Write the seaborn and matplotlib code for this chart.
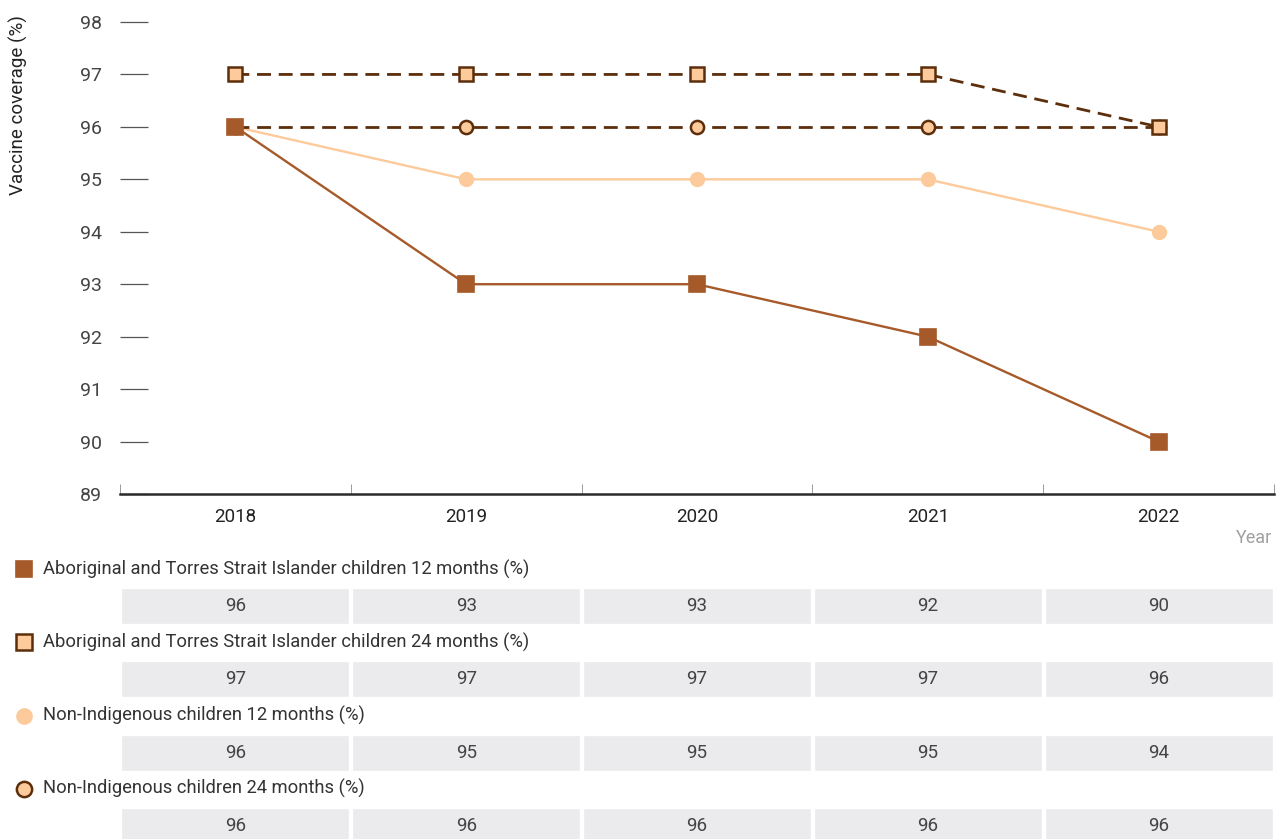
import matplotlib
matplotlib.use("Agg")
import matplotlib.pyplot as plt
import matplotlib.transforms as mtransforms
import numpy as np
import pandas as pd
import seaborn as sns

sns.set_theme(style="white")
plt.rcParams["font.family"] = ["Roboto", "DejaVu Sans"]

# data
years = ["2018", "2019", "2020", "2021", "2022"]
atsi_12 = [96, 93, 93, 92, 90]
atsi_24 = [97, 97, 97, 97, 96]
nonind_12 = [96, 95, 95, 95, 94]
nonind_24 = [96, 96, 96, 96, 96]

series_names = [
    "Aboriginal and Torres Strait Islander children 12 months (%)",
    "Aboriginal and Torres Strait Islander children 24 months (%)",
    "Non-Indigenous children 12 months (%)",
    "Non-Indigenous children 24 months (%)",
]
series_values = [atsi_12, atsi_24, nonind_12, nonind_24]

BROWN = "#a65a29"
PEACH = "#fdca9b"
DARK = "#5c2e0b"
DASH = (0, (5, 2.8))

styles = [
    dict(color=BROWN, marker="s", markerfacecolor=BROWN, markeredgecolor=BROWN,
         markeredgewidth=1.2, markersize=11, linestyle="-", linewidth=1.7, zorder=6),
    dict(color=DARK, marker="s", markerfacecolor=PEACH, markeredgecolor=DARK,
         markeredgewidth=1.8, markersize=10, linestyle=DASH, linewidth=2, zorder=5),
    dict(color=PEACH, marker="o", markerfacecolor=PEACH, markeredgecolor=PEACH,
         markeredgewidth=1, markersize=10, linestyle="-", linewidth=1.7, zorder=3),
    dict(color=DARK, marker="o", markerfacecolor=PEACH, markeredgecolor=DARK,
         markeredgewidth=1.8, markersize=9.5, linestyle=DASH, linewidth=2, zorder=4),
]

W, H = 1280, 839
fig = plt.figure(figsize=(W / 100, H / 100), dpi=100)

# main chart
ax = fig.add_axes([120 / W, 1 - 494 / H, 1154 / W, (494 - 22) / H])
for vals, st in zip(series_values, styles):
    df = pd.DataFrame({"year": years, "value": vals})
    sns.lineplot(data=df, x="year", y="value", ax=ax, errorbar=None, **st)

ax.set_xlim(-0.5, len(years) - 0.5)
ax.set_ylim(89, 98)
ax.set_yticks(np.arange(89, 99, 1))
ax.set_xticks(np.arange(len(years)))
ax.set_xticklabels(years)
ax.set_xticks(np.arange(-0.5, len(years), 1), minor=True)
ax.set_xlabel("")
ax.set_ylabel("")
for side in ["top", "right", "left"]:
    ax.spines[side].set_visible(False)
ax.spines["bottom"].set_color("#2b2b2b")
ax.spines["bottom"].set_linewidth(1.8)
ax.tick_params(axis="y", direction="in", length=20, width=0.9, color="#555555",
               pad=13, labelsize=14, labelcolor="#444444", left=True)
ax.tick_params(axis="x", which="major", length=0, pad=10, labelsize=13.5,
               labelcolor="#222222")
ax.tick_params(axis="x", which="minor", direction="in", length=7, width=0.7,
               color="#999999", bottom=True)
ax.grid(False)

fig.text(18 / W, 1 - 105 / H, "Vaccine coverage (%)", rotation=90,
         ha="center", va="center", fontsize=13.5, color="#222222")
fig.text(1272 / W, 1 - 538 / H, "Year", ha="right", va="center",
         fontsize=13, color="#a0a0a0")

# data table below the chart
tax = fig.add_axes([120 / W, 0, 1154 / W, 555 / H])
tax.set_xlim(-0.5, len(years) - 0.5)
tax.set_ylim(839, 284)
tax.axis("off")
blend = mtransforms.blended_transform_factory(fig.transFigure, tax.transData)

row_step = 73.3
for i, (name, vals, st) in enumerate(zip(series_names, series_values, styles)):
    head_y = 569 + i * row_step
    cell_y = head_y + 37
    tax.plot([24 / W], [head_y], transform=blend, clip_on=False,
             marker=st["marker"], markersize=11,
             markerfacecolor=st["markerfacecolor"],
             markeredgecolor=st["markeredgecolor"],
             markeredgewidth=st["markeredgewidth"], linestyle="none")
    tax.text(43 / W, head_y, name, transform=blend, ha="left", va="center",
             fontsize=13.2, color="#333333")
    tax.bar(np.arange(len(years)), 36, bottom=cell_y - 18, width=0.988,
            color="#ebebed", clip_on=False)
    for j, v in enumerate(vals):
        tax.text(j, cell_y, str(v), ha="center", va="center", fontsize=13.5,
                 color="#444444", clip_on=False)

fig.savefig("out.png", dpi=100)
